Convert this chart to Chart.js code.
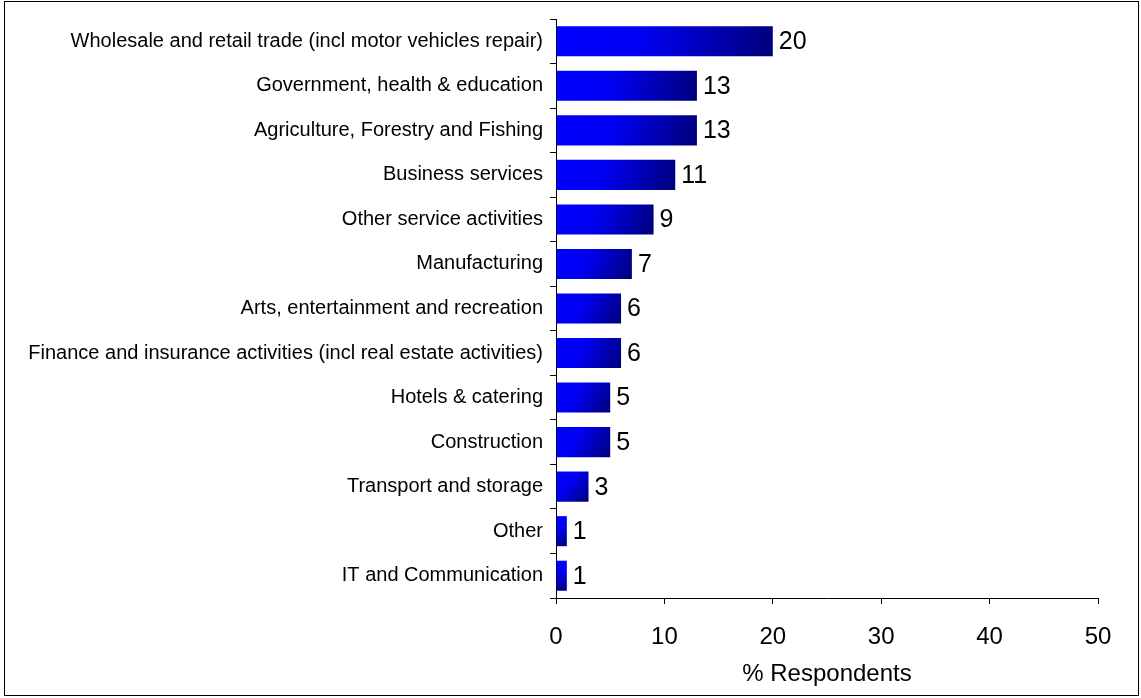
<!DOCTYPE html>
<html>
<head>
<meta charset="utf-8">
<script src="https://cdn.jsdelivr.net/npm/chart.js@4"></script>
<style>
  html, body { margin: 0; padding: 0; background: #fff; }
  #wrap { position: relative; width: 1141px; height: 698px; }
</style>
</head>
<body>
<div id="wrap"><canvas id="myChart" width="1141" height="698"></canvas></div>
<script>
// chart data
const categories = [
  'Wholesale and retail trade (incl motor vehicles repair)',
  'Government, health & education',
  'Agriculture, Forestry and Fishing',
  'Business services',
  'Other service activities',
  'Manufacturing',
  'Arts, entertainment and recreation',
  'Finance and insurance activities (incl real estate activities)',
  'Hotels & catering',
  'Construction',
  'Transport and storage',
  'Other',
  'IT and Communication'
];
const respondents = [20, 13, 13, 11, 9, 7, 6, 6, 5, 5, 3, 1, 1];
const xTicks = [0, 10, 20, 30, 40, 50];
const xTitle = '% Respondents';

const FONT = '"Liberation Sans", Arial, sans-serif';

// gradient per bar: bright blue top-left -> navy bottom-right
function barGradient(context) {
  const chart = context.chart;
  const x = chart.scales.x, y = chart.scales.y;
  if (!x || !y || context.dataIndex === undefined) return '#0000ff';
  const v = context.raw;
  const x0 = x.getPixelForValue(0);
  const x1 = x.getPixelForValue(v);
  const yc = y.getPixelForValue(context.dataIndex);
  const h = 30;
  if (!isFinite(x0) || !isFinite(x1) || !isFinite(yc)) return '#0000ff';
  const g = chart.ctx.createLinearGradient(x0, yc - h / 2, x1, yc + h / 2);
  g.addColorStop(0, '#0000ff');
  g.addColorStop(0.4, '#0000f2');
  g.addColorStop(1, '#00007a');
  return g;
}

// value labels at the end of bars + outer frame
const extras = {
  id: 'extras',
  afterDraw(chart) {
    const c = chart.ctx;
    c.save();
    c.strokeStyle = '#000';
    c.lineWidth = 1;
    c.strokeRect(4.5, 1.5, 1134, 694);
    const meta = chart.getDatasetMeta(0);
    c.fillStyle = '#000';
    c.font = '25px ' + FONT;
    c.textBaseline = 'middle';
    c.textAlign = 'left';
    meta.data.forEach((bar, i) => {
      c.fillText(String(respondents[i]), bar.x + 6, bar.y + 1);
    });
    c.restore();
  }
};

const ctx = document.getElementById('myChart').getContext('2d');
const myChart = new Chart(ctx, {
  type: 'bar',
  data: {
    labels: categories,
    datasets: [{
      label: xTitle,
      data: respondents,
      backgroundColor: barGradient,
      borderWidth: 0,
      barPercentage: 0.675,
      categoryPercentage: 1
    }]
  },
  options: {
    indexAxis: 'y',
    responsive: false,
    animation: false,
    layout: { padding: { top: 19, right: 43, left: 0, bottom: 0 } },
    plugins: {
      legend: { display: false },
      tooltip: { enabled: false }
    },
    scales: {
      x: {
        min: 0,
        max: 50,
        afterBuildTicks: (scale) => { scale.ticks = xTicks.map(v => ({ value: v })); },
        afterFit: (scale) => { scale.height = 100; },
        border: { display: true, color: '#000', width: 1 },
        grid: { drawOnChartArea: false, drawTicks: true, tickLength: 6, color: '#000' },
        ticks: { color: '#000', font: { family: FONT, size: 24 }, padding: 19, maxRotation: 0 },
        title: {
          display: true,
          text: xTitle,
          color: '#000',
          font: { family: FONT, size: 24 },
          padding: { top: 4, bottom: 9 }
        }
      },
      y: {
        afterFit: (scale) => { scale.width = 556; },
        border: { display: true, color: '#000', width: 1 },
        grid: { drawOnChartArea: false, drawTicks: true, tickLength: 6, color: '#000', offset: true },
        ticks: { color: '#000', font: { family: FONT, size: 20 }, padding: 7, autoSkip: false }
      }
    }
  },
  plugins: [extras]
});
</script>
</body>
</html>
